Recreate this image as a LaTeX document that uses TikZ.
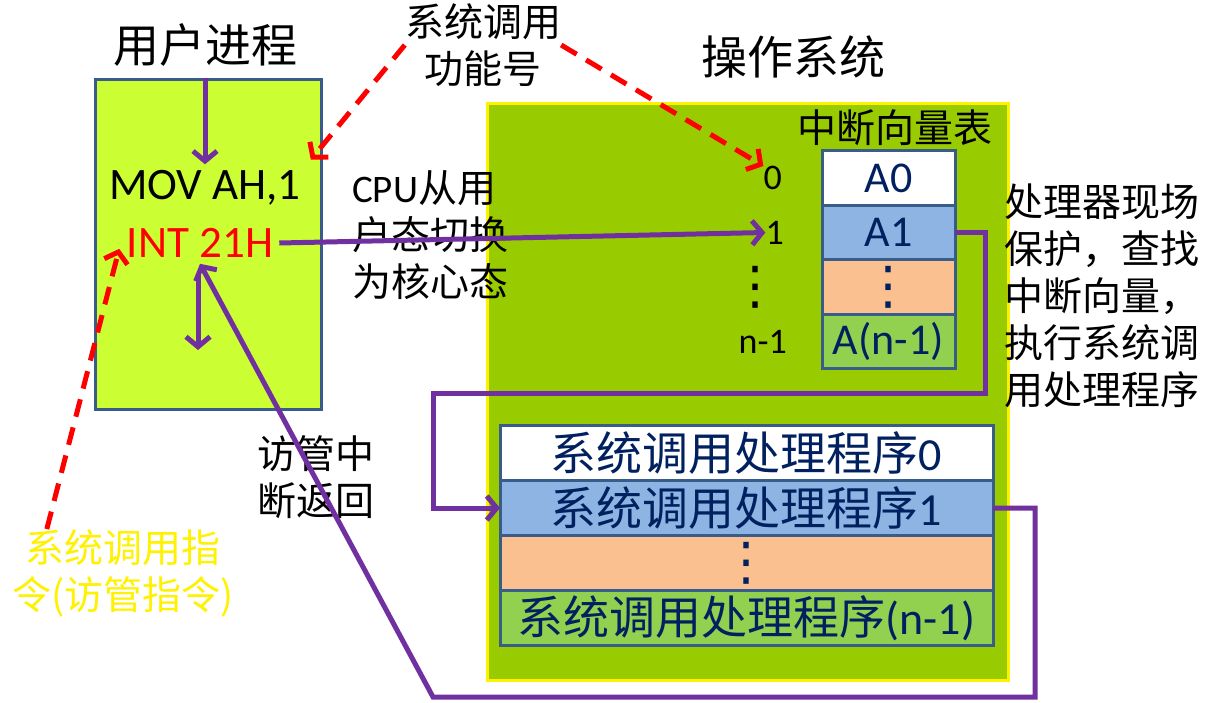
\documentclass[tikz,border=0pt]{standalone}
\usepackage{fontspec}
\setmainfont{Carlito}
\newfontfamily\cjk{Noto Sans CJK SC}
\newfontfamily\symfont{DejaVu Sans}
\usetikzlibrary{arrows.meta, positioning, calc}
\definecolor{userlime}{HTML}{CCFF33}
\definecolor{osgreen}{HTML}{99CC00}
\definecolor{cellblue}{HTML}{8EB4E3}
\definecolor{cellpeach}{HTML}{FAC090}
\definecolor{cellgreen}{HTML}{92D050}
\definecolor{edgeblue}{HTML}{385D8A}
\definecolor{navytext}{HTML}{002060}
\definecolor{callpurple}{HTML}{7030A0}
\newcommand{\dotstack}{{\symfont\fontsize{52}{52}\selectfont ⋮}}

\begin{document}
\begin{tikzpicture}[
    x=1pt, y=-1pt,
    cell/.style={draw=edgeblue, line width=3pt, outer sep=0pt, inner sep=0pt,
                 minimum width=133pt, minimum height=54.5pt, text=navytext,
                 font=\fontsize{44}{48}\selectfont},
    hcell/.style={cell, minimum width=493pt, minimum height=55pt,
                  font=\fontsize{46}{50}\selectfont},
    title/.style={font=\fontsize{46}{50}\selectfont\cjk, inner sep=0pt},
    cjklabel/.style={font=\fontsize{39}{47}\selectfont\cjk, inner sep=0pt},
    idx/.style={font=\fontsize{36}{40}\selectfont, inner sep=0pt},
    code/.style={font=\fontsize{45}{50}\selectfont, inner sep=6pt},
    parr/.style={draw=callpurple, line width=5pt, -{Straight Barb[length=10pt, width=24pt]}},
    rarr/.style={draw=red, line width=5pt, dash pattern=on 18pt off 11pt,
                 -{Straight Barb[length=10pt, width=24pt]}},
  ]
  \useasboundingbox (0,0) rectangle (1205,702);
  \fill[white] (0,0) rectangle (1205,702);

  % User process
  \node[title] (usertitle) at (205,45) {用户进程};
  \node[draw=edgeblue, line width=3pt, fill=userlime, minimum width=226pt,
        minimum height=330pt, inner sep=0pt] (user) at (208,244) {};
  \node[code] (mov) at (205,188) {MOV AH,1};
  \node[code, text=red] (int) at (200,243) {INT 21H};
  \coordinate (stepdown) at (198,350);

  % Operating system
  \node[title] (ostitle) at (793,57) {操作系统};
  \node[draw=yellow, line width=3pt, fill=osgreen, minimum width=521pt,
        minimum height=577pt, inner sep=0pt] (os) at (747.5,391.5) {};

  % Interrupt vector table
  \node[cjklabel] (vtitle) at (895,128) {中断向量表};
  \node[cell, fill=white] (v0) at (888.5,178) {A0};
  \node[cell, fill=cellblue, below=0pt of v0] (v1) {A1};
  \node[cell, fill=cellpeach, below=0pt of v1] (v2) {\dotstack};
  \node[cell, fill=cellgreen, below=0pt of v2] (v3) {A(n-1)};
  \node[idx, left=40pt of v0] (idx0) {0};
  \node[idx, left=38pt of v1] (idx1) {1};
  \node[idx, left=40pt of v2] (idxd) {\dotstack};
  \node[idx, left=35pt of v3] (idxn) {n-1};

  % Handlers
  \node[hcell, fill=white] (h0) at (746.5,453) {{\cjk 系统调用处理程序}0};
  \node[hcell, fill=cellblue, below=0pt of h0] (h1) {{\cjk 系统调用处理程序}1};
  \node[hcell, fill=cellpeach, below=0pt of h1] (h2) {\dotstack};
  \node[hcell, fill=cellgreen, below=0pt of h2] (h3) {{\cjk 系统调用处理程序}(n-1)};

  % Annotations
  \node[cjklabel, align=center] (fnum) at (483,45) {系统调用\\功能号};
  \node[cjklabel, align=left, anchor=west] (cpu) at (352,235)
       {{\fontspec{Carlito}CPU}从用\\户态切换\\为核心态};
  \node[cjklabel, align=left, anchor=west] (save) at (1004,296)
       {处理器现场\\保护，查找\\中断向量，\\执行系统调\\用处理程序};
  \node[cjklabel, align=left, anchor=west] (ret) at (257,477) {访管中\\断返回};
  \node[cjklabel, align=center, text=yellow] (instr) at (123,573) {系统调用指\\令(访管指令)};

  % Bends
  \coordinate (bendA) at (985,393);
  \coordinate (bendB) at (433,393);
  \coordinate (bendC) at (1035,697);
  \coordinate (bendD) at (433,697);

  % Arrows
  \draw[parr] (mov.north |- user.north) -- (mov.north);
  \draw[parr, shorten <=10pt] (int.south -| stepdown) -- (stepdown);
  \draw[parr] (int.east) -- (idx1.west);
  \draw[parr] (v1.east) -| (bendA) -- (bendB) |- (h1.west);
  \draw[parr] (h1.east) -| (bendC) -- (bendD) -- (int.south);
  \draw[rarr, shorten >=6pt] (fnum.west) -- (mov.north east);
  \draw[rarr] (fnum.east) -- (idx0.north west);
  \draw[rarr, shorten >=6pt] (instr.150) -- (int.west);

\end{tikzpicture}
\end{document}
